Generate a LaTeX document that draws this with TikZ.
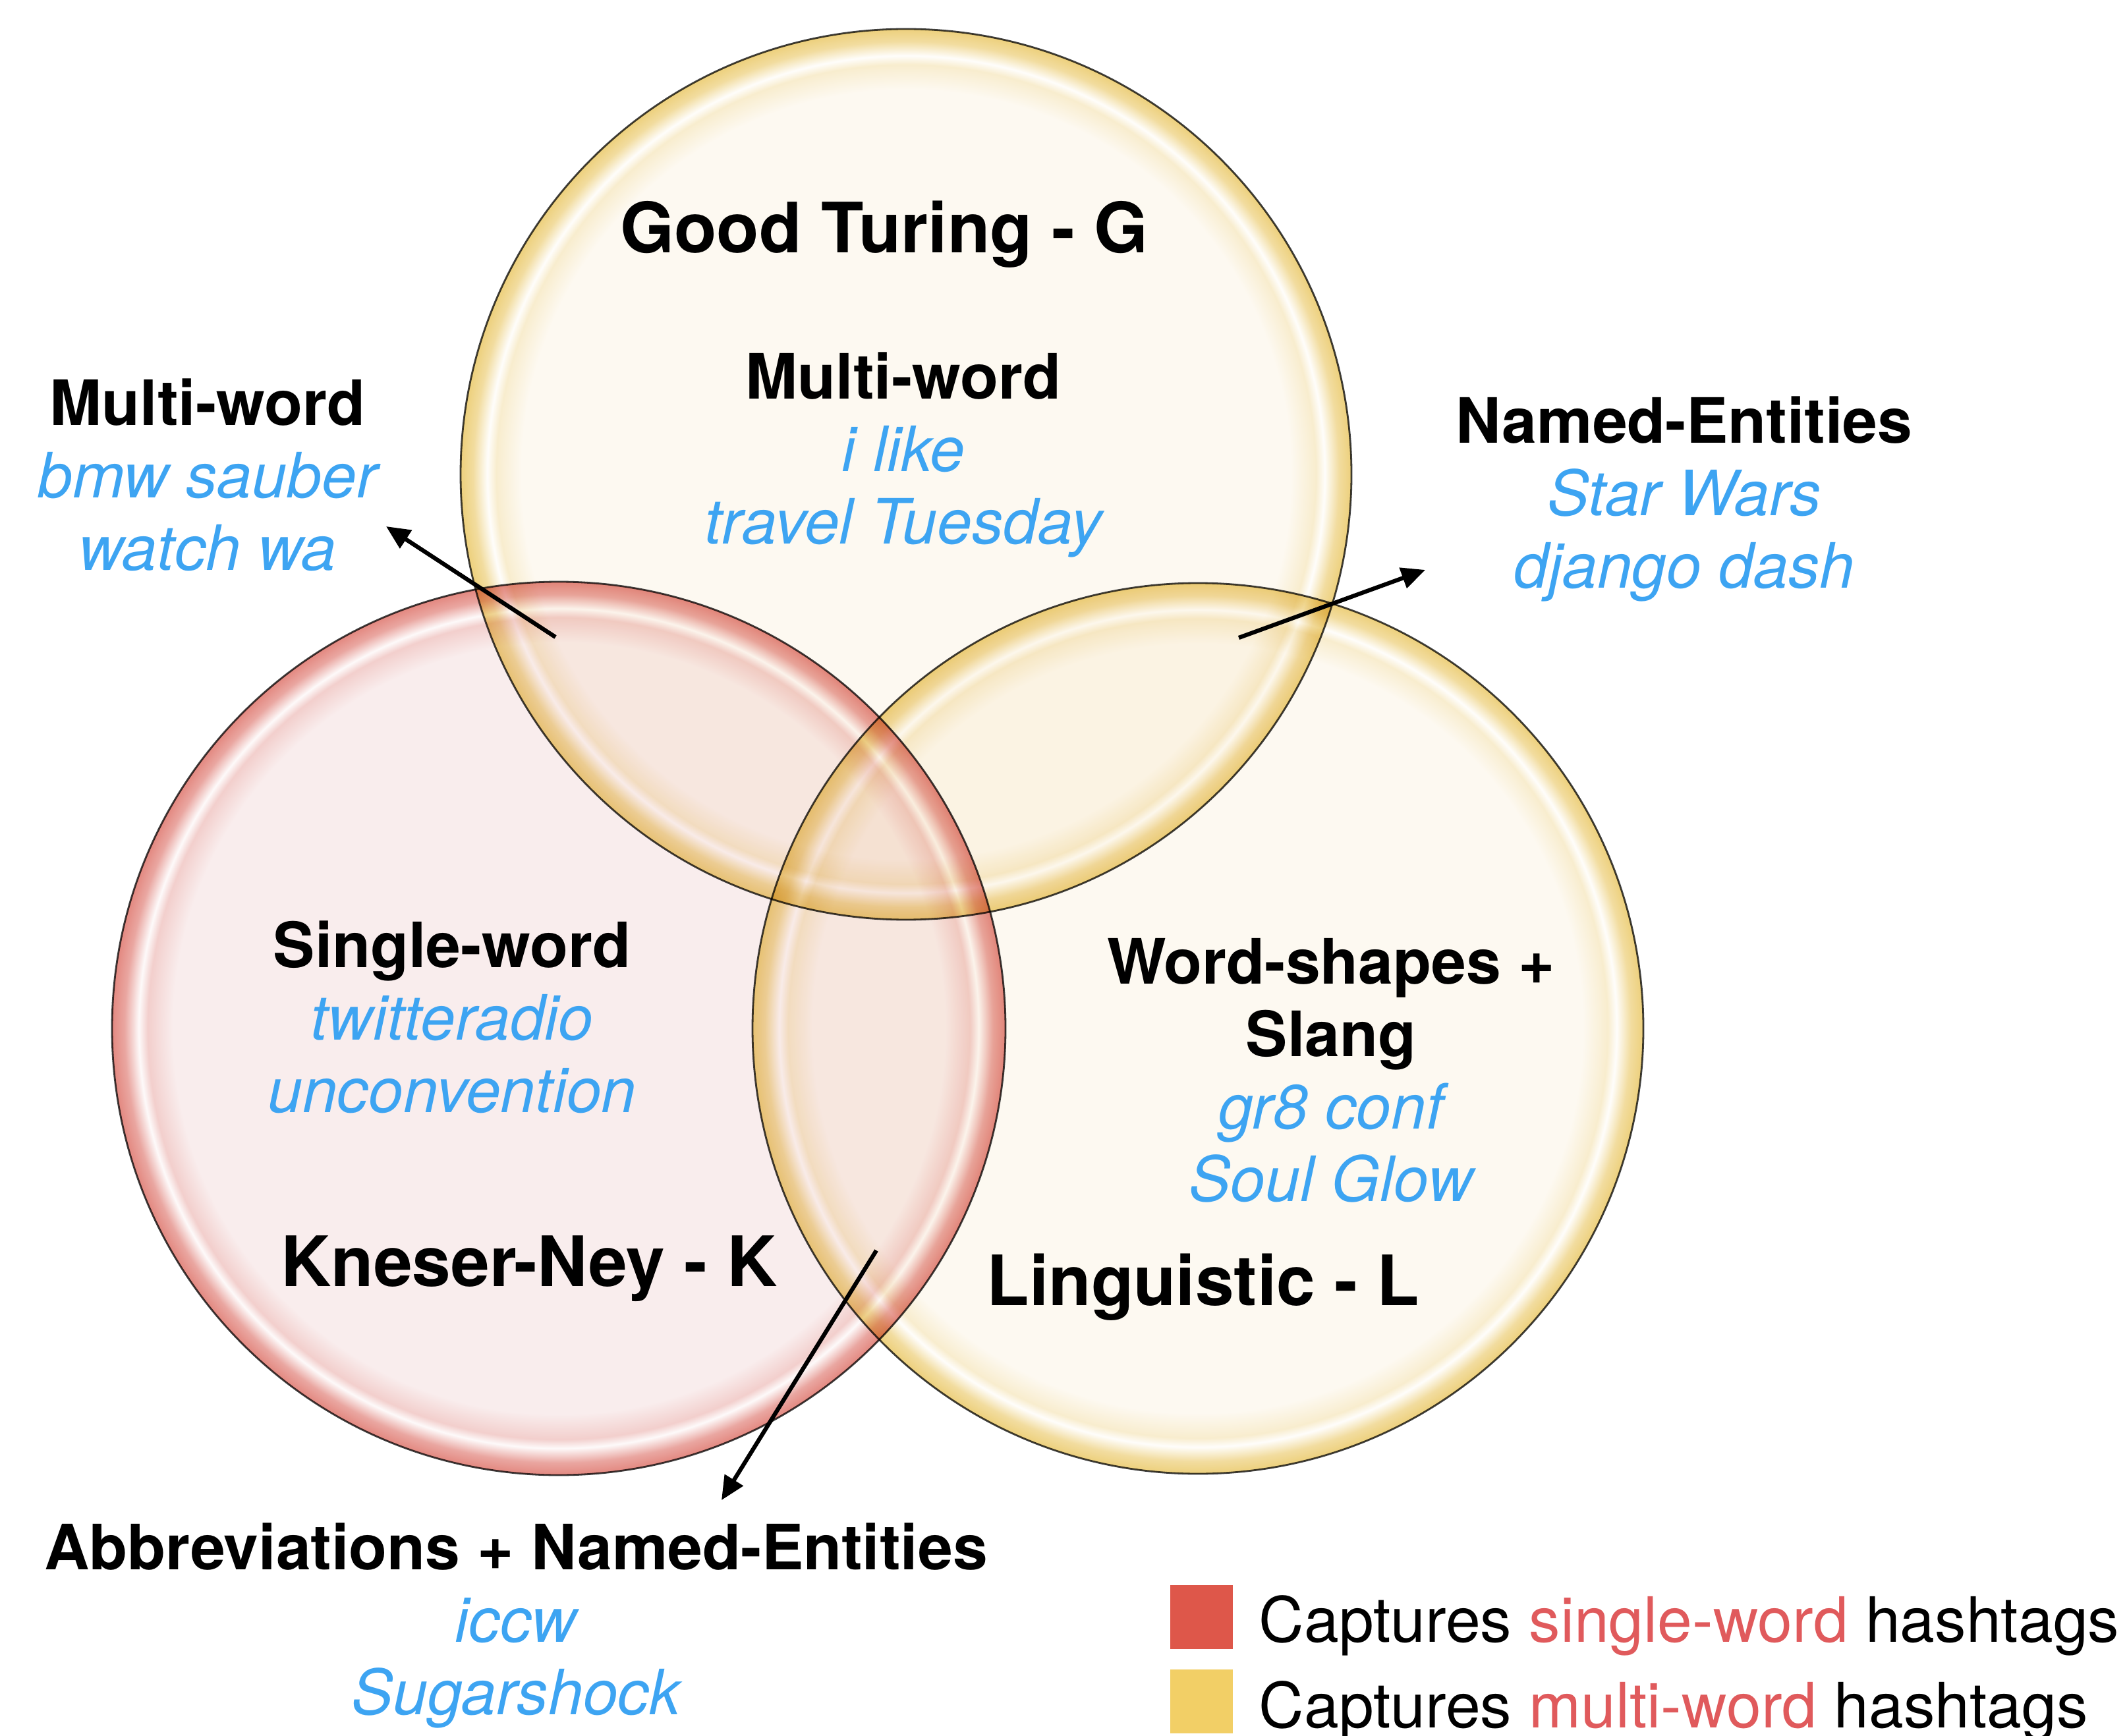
\documentclass[tikz,border=0pt]{standalone}
\usepackage{fontspec}
\setmainfont{TeX Gyre Heros}
\usepackage{xcolor}
\definecolor{gpale}{HTML}{FDF9F1}
\definecolor{grim}{HTML}{EDD07C}
\definecolor{kpale}{HTML}{F9EDED}
\definecolor{krim}{HTML}{E38880}
\definecolor{hashblue}{HTML}{3DA4F2}
\definecolor{legred}{HTML}{DE574A}
\definecolor{legyellow}{HTML}{F2CF66}
\definecolor{wordred}{HTML}{E05A5C}
\usetikzlibrary{arrows.meta,positioning}

% glossy discs: pale inside, soft glint, coloured rim
\pgfdeclareradialshading{gdisc}{\pgfpointorigin}{color(0bp)=(gpale); color(21.6bp)=(gpale); color(23.0bp)=(grim!30!gpale); color(23.5bp)=(white!70!gpale); color(24.3bp)=(grim!70!gpale); color(25bp)=(grim); color(50bp)=(grim)}
\pgfdeclareradialshading{kdisc}{\pgfpointorigin}{color(0bp)=(kpale); color(21.6bp)=(kpale); color(23.0bp)=(krim!30!kpale); color(23.5bp)=(white!70!kpale); color(24.3bp)=(krim!70!kpale); color(25bp)=(krim); color(50bp)=(krim)}

\begin{document}
\begin{tikzpicture}[
    disc/.style={draw=black!75, line width=0.8pt},
    head/.style={font=\fontsize{27}{31}\selectfont\bfseries, anchor=base},
    tag/.style={font=\fontsize{27}{31}\selectfont\itshape, text=hashblue, anchor=base},
    title/.style={font=\fontsize{30}{34}\selectfont\bfseries, anchor=base},
    nextline/.style={below=1.1cm of #1.base, anchor=base},
    pointer/.style={-{Triangle[length=0.36cm, width=0.32cm]}, line width=1.8pt},
    legbox/.style={minimum width=0.95cm, minimum height=0.97cm, inner sep=0pt},
    legtext/.style={font=\fontsize{27}{31}\selectfont, anchor=base west, inner sep=0pt},
]

\fill[white] (0,0) rectangle (32.28,26.34);
\useasboundingbox (0,0) rectangle (32.28,26.34);

% the three discs
\begin{scope}[blend group=multiply]
\path[disc, shading=gdisc] (13.75,19.14) circle (6.76);
\path[disc, shading=kdisc] (8.48,10.73) circle (6.78);
\path[disc, shading=gdisc] (18.18,10.73) circle (6.76);
\end{scope}

% Good Turing - G
\node[title] (gtitle) at (13.42,22.50) {Good Turing - G};
\node[head] (gmw) at (13.71,20.28) {Multi-word};
\node[tag, nextline=gmw] (gtag1) {i like};
\node[tag, nextline=gtag1] (gtag2) {travel Tuesday};

% G and K
\node[head] (gkmw) at (3.15,19.88) {Multi-word};
\node[tag, nextline=gkmw] (gktag1) {bmw sauber};
\node[tag, nextline=gktag1] (gktag2) {watch wa};

% G and L
\node[head] (glne) at (25.56,19.61) {Named-Entities};
\node[tag, nextline=glne] (gltag1) {Star Wars};
\node[tag, nextline=gltag1] (gltag2) {django dash};

% Kneser-Ney - K
\node[head] (ksw) at (6.86,11.66) {Single-word};
\node[tag, nextline=ksw] (ktag1) {twitteradio};
\node[tag, nextline=ktag1] (ktag2) {unconvention};
\node[title] (ktitle) at (8.03,6.82) {Kneser-Ney - K};

% Linguistic - L
\node[head] (lws) at (20.20,11.41) {Word-shapes +};
\node[head, nextline=lws] (lslang) {Slang};
\node[tag, nextline=lslang] (ltag1) {gr8 conf};
\node[tag, nextline=ltag1] (ltag2) {Soul Glow};
\node[title] (ltitle) at (18.26,6.53) {Linguistic - L};

% K and L
\node[head] (klab) at (7.83,2.52) {Abbreviations + Named-Entities};
\node[tag, nextline=klab] (kltag1) {iccw};
\node[tag, nextline=kltag1] (kltag2) {Sugarshock};

% pointers out of the overlaps
\coordinate (gkin) at (8.43,16.67);
\coordinate (gkout) at (5.86,18.35);
\coordinate (glin) at (18.80,16.66);
\coordinate (glout) at (21.63,17.69);
\coordinate (klin) at (13.30,7.36);
\coordinate (klout) at (10.95,3.57);
\draw[pointer] (gkin) -- (gkout);
\draw[pointer] (glin) -- (glout);
\draw[pointer] (klin) -- (klout);

% legend
\node[legbox, fill=legred] (keyred) at (18.23,1.80) {};
\node[legbox, fill=legyellow] (keyyellow) at (18.23,0.52) {};
\node[legtext] (legone) at (19.10,1.42) {Captures \textcolor{wordred}{single-word} hashtags};
\node[legtext] (legtwo) at (19.10,0.12) {Captures \textcolor{wordred}{multi-word} hashtags};

\end{tikzpicture}
\end{document}
